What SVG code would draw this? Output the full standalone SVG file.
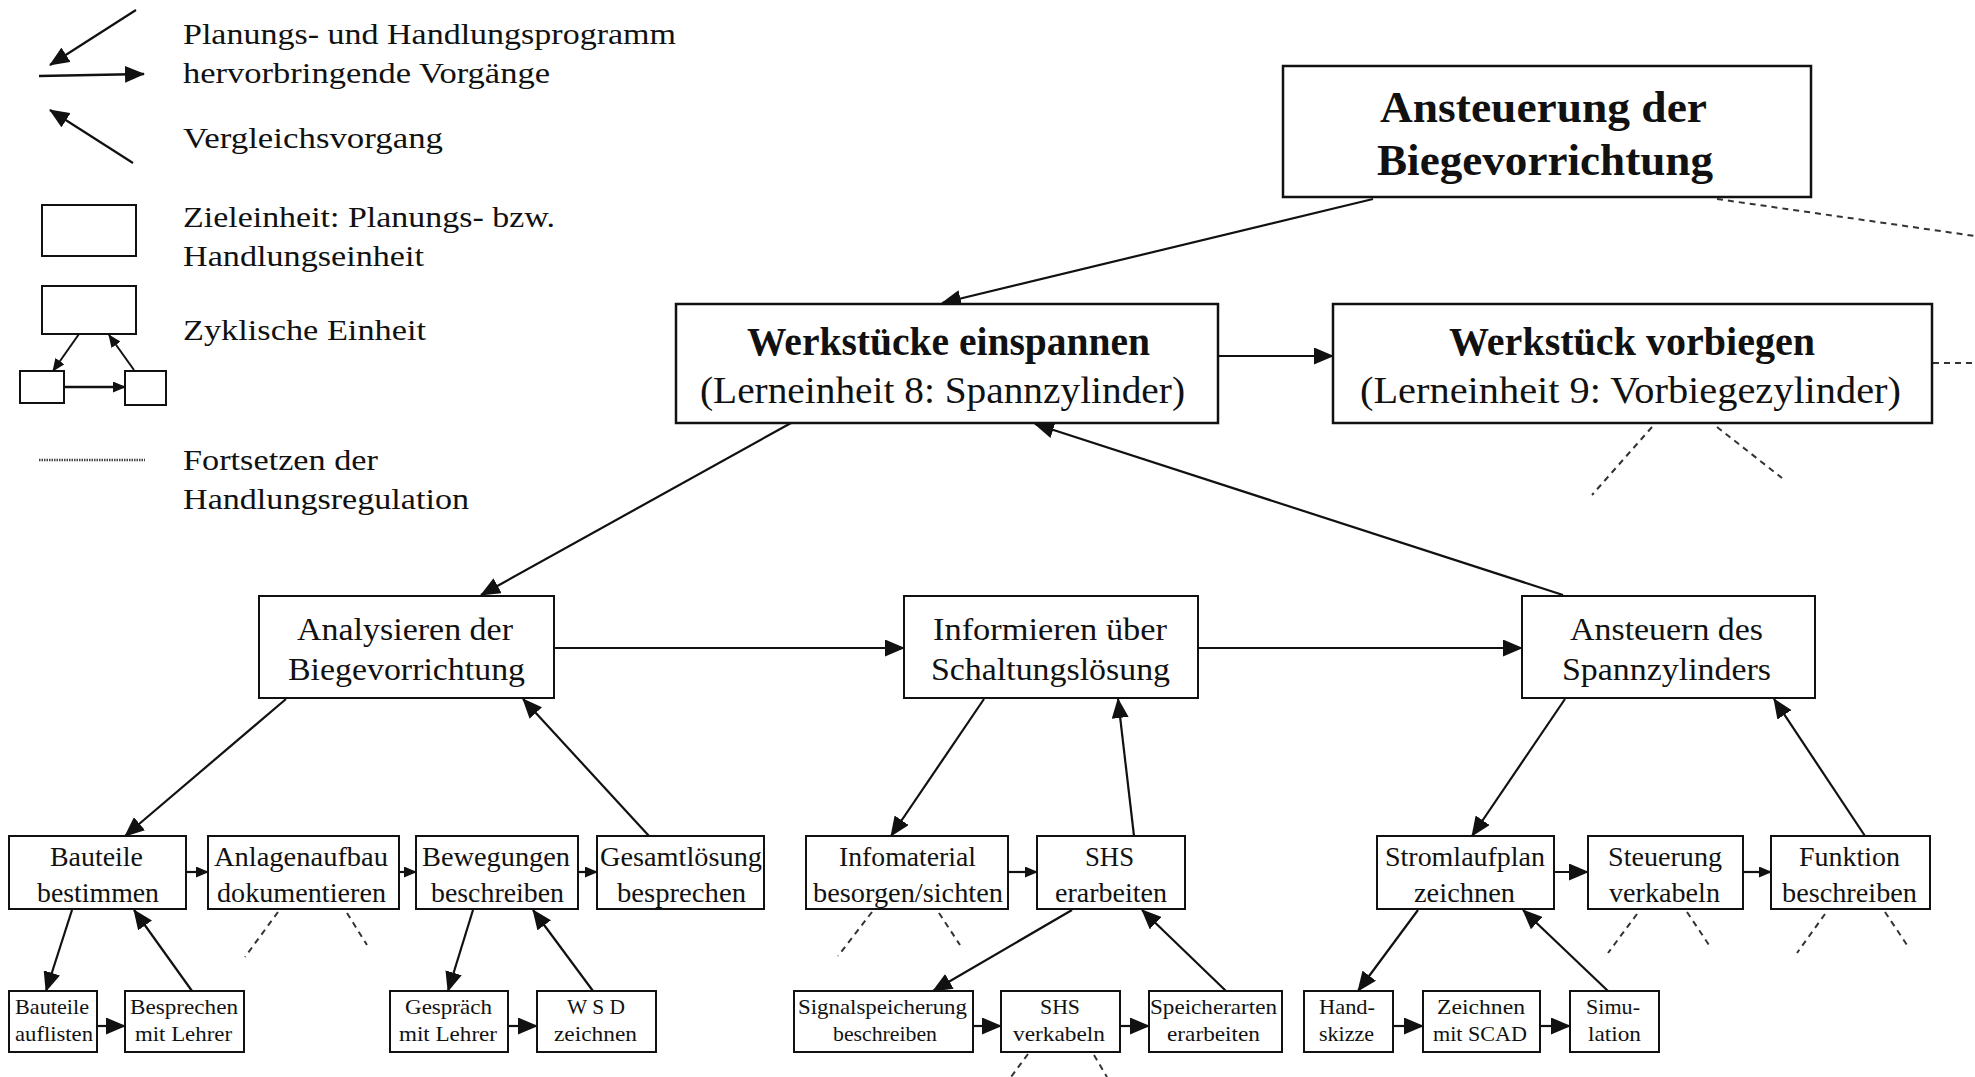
<svg xmlns="http://www.w3.org/2000/svg" width="1975" height="1077" viewBox="0 0 1975 1077">
<defs>
<marker id="ah" markerUnits="userSpaceOnUse" markerWidth="20" markerHeight="17" refX="19" refY="8.5" orient="auto"><path d="M0,0 L20,8.5 L0,17 Z" fill="#111"/></marker>
<marker id="as" markerUnits="userSpaceOnUse" markerWidth="13" markerHeight="11" refX="12" refY="5.5" orient="auto"><path d="M0,0 L13,5.5 L0,11 Z" fill="#111"/></marker>
<style>
rect{fill:#fff;stroke:#111;stroke-width:2}
text{font-family:"Liberation Serif","Times New Roman",serif;fill:#111}
.lg{font-size:29px}
.t1{font-size:45px;font-weight:bold}
.t2b{font-size:40px;font-weight:bold}
.t2{font-size:38px}
.t3{font-size:32px}
.t4{font-size:28px}
.t5{font-size:22px}
.c line{stroke:#111;stroke-width:2.2;marker-end:url(#ah)}
.c line.s{marker-end:url(#as)}
.d line{stroke:#333;stroke-width:2;stroke-dasharray:6 5}
</style>
</defs>
<rect width="1975" height="1077" style="fill:#fff;stroke:none"/>

<g id="legend">
<line x1="136" y1="10" x2="50" y2="65" stroke="#111" stroke-width="2.2" marker-end="url(#ah)"/>
<line x1="39" y1="76" x2="144" y2="74" stroke="#111" stroke-width="2.5" marker-end="url(#ah)"/>
<line x1="133" y1="163" x2="50" y2="110" stroke="#111" stroke-width="2.2" marker-end="url(#ah)"/>
<rect x="42" y="205" width="94" height="51"/>
<rect x="42" y="286" width="94" height="48"/>
<rect x="20" y="371" width="44" height="32"/>
<rect x="125" y="371" width="41" height="34"/>
<line x1="79" y1="334" x2="53" y2="371" stroke="#111" stroke-width="2" marker-end="url(#as)"/>
<line x1="134" y1="370" x2="109" y2="335" stroke="#111" stroke-width="2" marker-end="url(#as)"/>
<line x1="64" y1="387" x2="125" y2="387" stroke="#111" stroke-width="2.5" marker-end="url(#as)"/>
<line x1="39" y1="460" x2="145" y2="460" stroke="#444" stroke-width="2.5" stroke-dasharray="1.5 1"/>
<text class="lg" x="183" y="44" textLength="493" lengthAdjust="spacingAndGlyphs">Planungs- und Handlungsprogramm</text>
<text class="lg" x="183" y="83" textLength="367" lengthAdjust="spacingAndGlyphs">hervorbringende Vorgänge</text>
<text class="lg" x="183" y="148" textLength="260" lengthAdjust="spacingAndGlyphs">Vergleichsvorgang</text>
<text class="lg" x="183" y="227" textLength="372" lengthAdjust="spacingAndGlyphs">Zieleinheit: Planungs- bzw.</text>
<text class="lg" x="183" y="266" textLength="241" lengthAdjust="spacingAndGlyphs">Handlungseinheit</text>
<text class="lg" x="183" y="340" textLength="243" lengthAdjust="spacingAndGlyphs">Zyklische Einheit</text>
<text class="lg" x="183" y="470" textLength="195" lengthAdjust="spacingAndGlyphs">Fortsetzen der</text>
<text class="lg" x="183" y="509" textLength="286" lengthAdjust="spacingAndGlyphs">Handlungsregulation</text>
</g>

<g id="connectors" class="c">
<line x1="1373" y1="199" x2="942" y2="303"/>
<line x1="1218" y1="356" x2="1333" y2="356"/>
<line x1="791" y1="423" x2="481" y2="595"/>
<line x1="1563" y1="595" x2="1035" y2="424"/>
<line x1="554" y1="648" x2="904" y2="648"/>
<line x1="1198" y1="648" x2="1522" y2="648"/>
<line x1="286" y1="699" x2="125" y2="836"/>
<line x1="649" y1="836" x2="523" y2="699"/>
<line x1="984" y1="699" x2="891" y2="836"/>
<line x1="1134" y1="836" x2="1118" y2="699"/>
<line x1="1565" y1="699" x2="1472" y2="836"/>
<line x1="1865" y1="836" x2="1774" y2="699"/>
<line class="s" x1="186" y1="872" x2="208" y2="872"/>
<line class="s" x1="399" y1="872" x2="416" y2="872"/>
<line class="s" x1="578" y1="872" x2="597" y2="872"/>
<line class="s" x1="1008" y1="872" x2="1037" y2="872"/>
<line x1="1554" y1="872" x2="1588" y2="872"/>
<line class="s" x1="1743" y1="872" x2="1771" y2="872"/>
<line x1="72" y1="910" x2="46" y2="991"/>
<line x1="192" y1="991" x2="134" y2="910"/>
<line x1="473" y1="910" x2="448" y2="991"/>
<line x1="593" y1="991" x2="533" y2="910"/>
<line x1="1072" y1="910" x2="933" y2="991"/>
<line x1="1226" y1="991" x2="1142" y2="910"/>
<line x1="1418" y1="910" x2="1358" y2="991"/>
<line x1="1608" y1="991" x2="1523" y2="910"/>
<line x1="97" y1="1026" x2="125" y2="1026"/>
<line x1="508" y1="1026" x2="537" y2="1026"/>
<line x1="973" y1="1026" x2="1001" y2="1026"/>
<line x1="1120" y1="1026" x2="1149" y2="1026"/>
<line x1="1393" y1="1026" x2="1423" y2="1026"/>
<line x1="1540" y1="1026" x2="1570" y2="1026"/>
</g>

<g id="continuations" class="d">
<line x1="1717" y1="199" x2="1975" y2="236"/>
<line x1="1933" y1="363" x2="1975" y2="363"/>
<line x1="1652" y1="427" x2="1592" y2="495"/>
<line x1="1717" y1="427" x2="1782" y2="478"/>
<line x1="278" y1="912" x2="245" y2="957"/>
<line x1="347" y1="913" x2="367" y2="945"/>
<line x1="872" y1="912" x2="838" y2="956"/>
<line x1="939" y1="913" x2="960" y2="945"/>
<line x1="1028" y1="1054" x2="1011" y2="1077"/>
<line x1="1094" y1="1055" x2="1107" y2="1077"/>
<line x1="1637" y1="914" x2="1608" y2="953"/>
<line x1="1687" y1="912" x2="1711" y2="948"/>
<line x1="1825" y1="914" x2="1797" y2="953"/>
<line x1="1885" y1="912" x2="1909" y2="948"/>
</g>

<g id="n-ansteuerung">
<rect x="1283" y="66" width="528" height="131" style="stroke-width:2.5"/>
<text class="t1" x="1380" y="122" textLength="327" lengthAdjust="spacingAndGlyphs">Ansteuerung der</text>
<text class="t1" x="1377" y="175" textLength="336" lengthAdjust="spacingAndGlyphs">Biegevorrichtung</text>
</g>
<g id="n-einspannen">
<rect x="676" y="304" width="542" height="119" style="stroke-width:2.5"/>
<text class="t2b" x="747" y="355" textLength="403" lengthAdjust="spacingAndGlyphs">Werkstücke einspannen</text>
<text class="t2" x="700" y="403" textLength="485" lengthAdjust="spacingAndGlyphs">(Lerneinheit 8: Spannzylinder)</text>
</g>
<g id="n-vorbiegen">
<rect x="1333" y="304" width="599" height="119" style="stroke-width:2.5"/>
<text class="t2b" x="1449" y="355" textLength="366" lengthAdjust="spacingAndGlyphs">Werkstück vorbiegen</text>
<text class="t2" x="1360" y="403" textLength="541" lengthAdjust="spacingAndGlyphs">(Lerneinheit 9: Vorbiegezylinder)</text>
</g>

<g id="n-analysieren">
<rect x="259" y="596" width="295" height="102"/>
<text class="t3" x="297" y="640" textLength="216" lengthAdjust="spacingAndGlyphs">Analysieren der</text>
<text class="t3" x="288" y="680" textLength="237" lengthAdjust="spacingAndGlyphs">Biegevorrichtung</text>
</g>
<g id="n-informieren">
<rect x="904" y="596" width="294" height="102"/>
<text class="t3" x="933" y="640" textLength="234" lengthAdjust="spacingAndGlyphs">Informieren über</text>
<text class="t3" x="931" y="680" textLength="239" lengthAdjust="spacingAndGlyphs">Schaltungslösung</text>
</g>
<g id="n-ansteuern">
<rect x="1522" y="596" width="293" height="102"/>
<text class="t3" x="1570" y="640" textLength="193" lengthAdjust="spacingAndGlyphs">Ansteuern des</text>
<text class="t3" x="1562" y="680" textLength="209" lengthAdjust="spacingAndGlyphs">Spannzylinders</text>
</g>

<g id="n-bauteile-bestimmen">
<rect x="9" y="836" width="177" height="73"/>
<text class="t4" x="50" y="866" textLength="93" lengthAdjust="spacingAndGlyphs">Bauteile</text>
<text class="t4" x="37" y="902" textLength="122" lengthAdjust="spacingAndGlyphs">bestimmen</text>
</g>
<g id="n-anlagenaufbau">
<rect x="208" y="836" width="191" height="73"/>
<text class="t4" x="214" y="866" textLength="174" lengthAdjust="spacingAndGlyphs">Anlagenaufbau</text>
<text class="t4" x="217" y="902" textLength="169" lengthAdjust="spacingAndGlyphs">dokumentieren</text>
</g>
<g id="n-bewegungen">
<rect x="416" y="836" width="162" height="73"/>
<text class="t4" x="422" y="866" textLength="148" lengthAdjust="spacingAndGlyphs">Bewegungen</text>
<text class="t4" x="431" y="902" textLength="133" lengthAdjust="spacingAndGlyphs">beschreiben</text>
</g>
<g id="n-gesamtloesung">
<rect x="597" y="836" width="167" height="73"/>
<text class="t4" x="600" y="866" textLength="162" lengthAdjust="spacingAndGlyphs">Gesamtlösung</text>
<text class="t4" x="617" y="902" textLength="129" lengthAdjust="spacingAndGlyphs">besprechen</text>
</g>
<g id="n-infomaterial">
<rect x="806" y="836" width="202" height="73"/>
<text class="t4" x="839" y="866" textLength="137" lengthAdjust="spacingAndGlyphs">Infomaterial</text>
<text class="t4" x="813" y="902" textLength="190" lengthAdjust="spacingAndGlyphs">besorgen/sichten</text>
</g>
<g id="n-shs-erarbeiten">
<rect x="1037" y="836" width="148" height="73"/>
<text class="t4" x="1085" y="866" textLength="49" lengthAdjust="spacingAndGlyphs">SHS</text>
<text class="t4" x="1055" y="902" textLength="112" lengthAdjust="spacingAndGlyphs">erarbeiten</text>
</g>
<g id="n-stromlaufplan">
<rect x="1377" y="836" width="177" height="73"/>
<text class="t4" x="1385" y="866" textLength="160" lengthAdjust="spacingAndGlyphs">Stromlaufplan</text>
<text class="t4" x="1414" y="902" textLength="101" lengthAdjust="spacingAndGlyphs">zeichnen</text>
</g>
<g id="n-steuerung">
<rect x="1588" y="836" width="155" height="73"/>
<text class="t4" x="1608" y="866" textLength="114" lengthAdjust="spacingAndGlyphs">Steuerung</text>
<text class="t4" x="1609" y="902" textLength="111" lengthAdjust="spacingAndGlyphs">verkabeln</text>
</g>
<g id="n-funktion">
<rect x="1771" y="836" width="159" height="73"/>
<text class="t4" x="1799" y="866" textLength="101" lengthAdjust="spacingAndGlyphs">Funktion</text>
<text class="t4" x="1782" y="902" textLength="135" lengthAdjust="spacingAndGlyphs">beschreiben</text>
</g>

<g id="n-bauteile-auflisten">
<rect x="9" y="991" width="88" height="61"/>
<text class="t5" x="15" y="1014" textLength="74" lengthAdjust="spacingAndGlyphs">Bauteile</text>
<text class="t5" x="15" y="1041" textLength="78" lengthAdjust="spacingAndGlyphs">auflisten</text>
</g>
<g id="n-besprechen">
<rect x="125" y="991" width="119" height="61"/>
<text class="t5" x="130" y="1014" textLength="108" lengthAdjust="spacingAndGlyphs">Besprechen</text>
<text class="t5" x="135" y="1041" textLength="97" lengthAdjust="spacingAndGlyphs">mit Lehrer</text>
</g>
<g id="n-gespraech">
<rect x="390" y="991" width="118" height="61"/>
<text class="t5" x="405" y="1014" textLength="87" lengthAdjust="spacingAndGlyphs">Gespräch</text>
<text class="t5" x="399" y="1041" textLength="98" lengthAdjust="spacingAndGlyphs">mit Lehrer</text>
</g>
<g id="n-wsd">
<rect x="537" y="991" width="119" height="61"/>
<text class="t5" x="567" y="1014" textLength="58" lengthAdjust="spacingAndGlyphs">W S D</text>
<text class="t5" x="554" y="1041" textLength="83" lengthAdjust="spacingAndGlyphs">zeichnen</text>
</g>
<g id="n-signalspeicherung">
<rect x="794" y="991" width="179" height="61"/>
<text class="t5" x="798" y="1014" textLength="169" lengthAdjust="spacingAndGlyphs">Signalspeicherung</text>
<text class="t5" x="833" y="1041" textLength="104" lengthAdjust="spacingAndGlyphs">beschreiben</text>
</g>
<g id="n-shs-verkabeln">
<rect x="1001" y="991" width="119" height="61"/>
<text class="t5" x="1040" y="1014" textLength="40" lengthAdjust="spacingAndGlyphs">SHS</text>
<text class="t5" x="1013" y="1041" textLength="92" lengthAdjust="spacingAndGlyphs">verkabeln</text>
</g>
<g id="n-speicherarten">
<rect x="1149" y="991" width="133" height="61"/>
<text class="t5" x="1150" y="1014" textLength="127" lengthAdjust="spacingAndGlyphs">Speicherarten</text>
<text class="t5" x="1167" y="1041" textLength="93" lengthAdjust="spacingAndGlyphs">erarbeiten</text>
</g>
<g id="n-handskizze">
<rect x="1304" y="991" width="89" height="61"/>
<text class="t5" x="1319" y="1014" textLength="56" lengthAdjust="spacingAndGlyphs">Hand-</text>
<text class="t5" x="1319" y="1041" textLength="55" lengthAdjust="spacingAndGlyphs">skizze</text>
</g>
<g id="n-zeichnen-scad">
<rect x="1423" y="991" width="117" height="61"/>
<text class="t5" x="1437" y="1014" textLength="88" lengthAdjust="spacingAndGlyphs">Zeichnen</text>
<text class="t5" x="1433" y="1041" textLength="94" lengthAdjust="spacingAndGlyphs">mit SCAD</text>
</g>
<g id="n-simulation">
<rect x="1570" y="991" width="89" height="61"/>
<text class="t5" x="1586" y="1014" textLength="54" lengthAdjust="spacingAndGlyphs">Simu-</text>
<text class="t5" x="1588" y="1041" textLength="53" lengthAdjust="spacingAndGlyphs">lation</text>
</g>
</svg>
